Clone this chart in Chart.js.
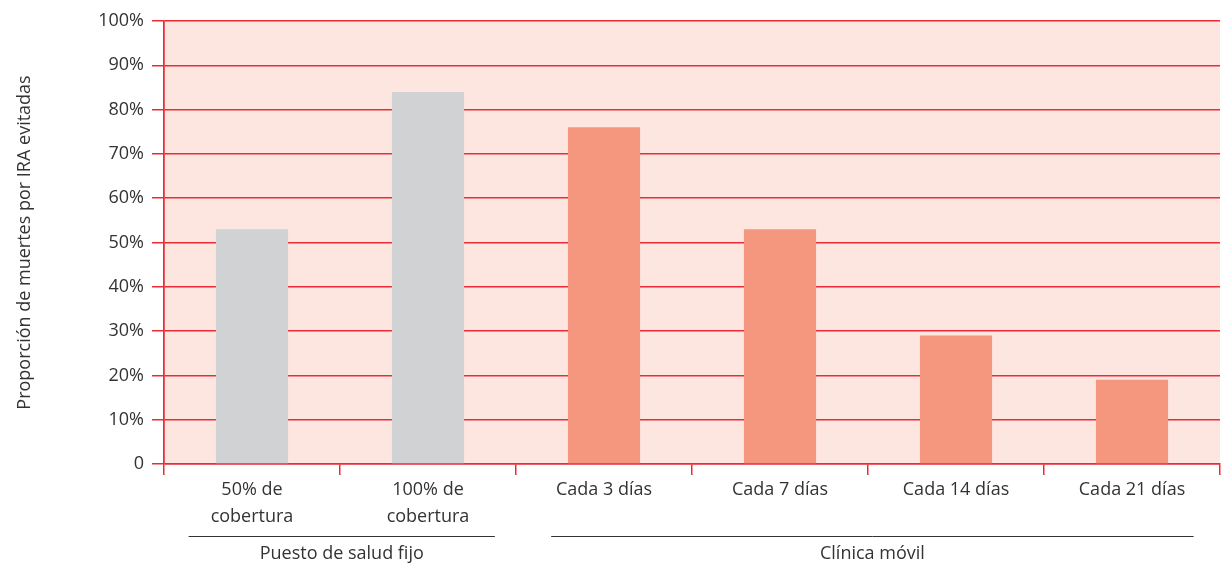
<!DOCTYPE html>
<html>
<head>
<meta charset="utf-8">
<script src="https://cdn.jsdelivr.net/npm/chart.js@4/dist/chart.umd.min.js"></script>
<style>
  html, body { margin: 0; padding: 0; background: #fff; }
  #wrap { width: 1227px; height: 563px; }
</style>
</head>
<body>
<div id="wrap"><canvas id="myChart" width="1227" height="563"></canvas></div>
<script>
'use strict';

// <------------------ DATA ------------------>

let categories = [
  ['50% de', 'cobertura'],
  ['100% de', 'cobertura'],
  'Cada 3 días',
  'Cada 7 días',
  'Cada 14 días',
  'Cada 21 días'
];
let deathsAvoided = [53, 84, 76, 53, 29, 19];

let groupLabels = ['Puesto de salud fijo', 'Clínica móvil'];
let groupFirst = [0, 2];
let groupLast = [1, 5];

let yTicks = [0, 10, 20, 30, 40, 50, 60, 70, 80, 90, 100];
let yTitle = 'Proporción de muertes por IRA evitadas';

// <------------------ STYLE ------------------>

let red = '#ec2a36';
let plotFill = '#fde6df';
let textColor = '#333333';
let barColors = ['#d1d2d4', '#d1d2d4', '#f5967f', '#f5967f', '#f5967f', '#f5967f'];
let fontFamily = '"Open Sans", "DejaVu Sans", sans-serif';

// <------------------ PLUGINS ------------------>

// pink plot background
let plotBackground = {
  id: 'plotBackground',
  beforeDraw(chart) {
    let a = chart.chartArea;
    let c = chart.ctx;
    c.save();
    c.fillStyle = plotFill;
    c.fillRect(a.left, a.top, a.right - a.left, a.bottom - a.top);
    c.restore();
  }
};

// group lines + labels under the categories
let groupAxis = {
  id: 'groupAxis',
  afterDraw(chart) {
    let x = chart.scales.x;
    let c = chart.ctx;
    let step = x.getPixelForValue(1) - x.getPixelForValue(0);
    let lineY = 536;
    c.save();
    c.strokeStyle = textColor;
    c.lineWidth = 1;
    c.fillStyle = textColor;
    c.font = '18px ' + fontFamily;
    c.textAlign = 'center';
    c.textBaseline = 'middle';
    for (let i = 0; i < groupLabels.length; i++) {
      let x1 = x.getPixelForValue(groupFirst[i]) - step * (i === 0 ? 0.36 : 0.3);
      let x2 = x.getPixelForValue(groupLast[i]) + step * (i === 0 ? 0.38 : 0.35);
      c.beginPath();
      c.moveTo(x1, lineY + 0.5);
      c.lineTo(x2, lineY + 0.5);
      c.stroke();
      c.fillText(groupLabels[i], (x1 + x2) / 2, lineY + 18);
    }
    c.restore();
  }
};

// <------------------ CHART ------------------>

let ctx = document.getElementById('myChart').getContext('2d');

let myChartObj = {
  type: 'bar',
  data: {
    labels: categories,
    datasets: [{
      data: deathsAvoided,
      backgroundColor: barColors,
      borderWidth: 0,
      barPercentage: 0.82,
      categoryPercentage: 0.5
    }]
  },
  options: {
    responsive: false,
    animation: false,
    layout: { padding: { top: 21, right: 7, left: 0, bottom: 0 } },
    plugins: {
      legend: { display: false },
      tooltip: { enabled: false }
    },
    scales: {
      x: {
        offset: true,
        afterFit(scale) { scale.height = 99; },
        grid: {
          offset: true,
          drawOnChartArea: true,
          color: (c) => (c.index === 0 || c.index === categories.length) ? red : 'rgba(0,0,0,0)',
          tickColor: red,
          tickLength: 11,
          lineWidth: 1.5
        },
        border: { display: true, color: red, width: 1.5 },
        ticks: {
          color: textColor,
          font: { family: fontFamily, size: 18, lineHeight: 1.5 },
          padding: 1,
          maxRotation: 0
        }
      },
      y: {
        min: 0,
        max: 100,
        afterFit(scale) { scale.width = 164; },
        afterBuildTicks(scale) { scale.ticks = yTicks.map(v => ({ value: v })); },
        grid: {
          color: red,
          tickColor: red,
          tickLength: 12,
          lineWidth: 1.5
        },
        border: { display: true, color: red, width: 1.5 },
        ticks: {
          color: textColor,
          font: { family: fontFamily, size: 18 },
          padding: 8,
          callback: (v) => v === 0 ? '0' : v + '%'
        },
        title: {
          display: true,
          text: yTitle,
          color: textColor,
          font: { family: fontFamily, size: 18 },
          padding: { top: 14, bottom: 0 }
        }
      }
    }
  },
  plugins: [plotBackground, groupAxis]
};

const myChart = new Chart(ctx, myChartObj);
</script>
</body>
</html>
